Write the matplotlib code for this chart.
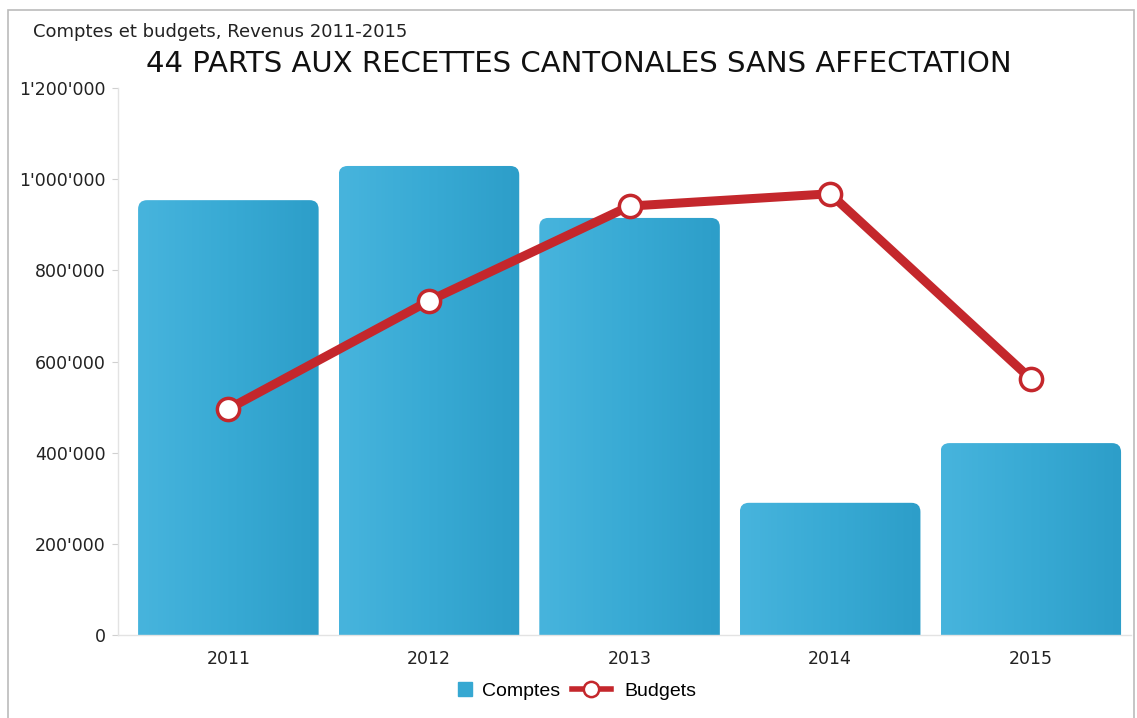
import matplotlib
matplotlib.use("Agg")
import numpy as np
import matplotlib.pyplot as plt
from matplotlib.ticker import FuncFormatter
from matplotlib.patches import Rectangle, FancyBboxPatch
from matplotlib.lines import Line2D
from matplotlib.colors import LinearSegmentedColormap

# data
years = ["2011", "2012", "2013", "2014", "2015"]
comptes = [954000, 1029000, 915000, 290000, 421000]
budgets = [496000, 733000, 941000, 968000, 562000]

bar_color = "#36a8d2"
line_color = "#c4272c"

fig = plt.figure(figsize=(11.37, 7.18), dpi=100)
ax = fig.add_axes([0.1038, 0.1156, 0.891, 0.7618])
ax.set_xlim(-0.55, 4.5)
ax.set_ylim(0, 1200000)

x = np.arange(len(years))
bars = ax.bar(x, comptes, width=0.9, color=bar_color, zorder=2)

# rounded tops + slight left-to-right shading, built from the bar geometry
grad = LinearSegmentedColormap.from_list("g", ["#47b4dd", "#38aad4", "#2d9ec9"])
px_per_x = 200.5
y_per_px = 1200000 / 547
r_px = 9
for b in bars:
    b.set_visible(False)
    x0, w, h = b.get_x(), b.get_width(), b.get_height()
    patch = FancyBboxPatch((x0, -40000), w, h + 40000,
                           boxstyle=f"round,pad=0,rounding_size={r_px / px_per_x}",
                           mutation_aspect=y_per_px * px_per_x,
                           fc="none", ec="none", zorder=2)
    ax.add_patch(patch)
    im = ax.imshow(np.linspace(0, 1, 64).reshape(1, -1), cmap=grad, aspect="auto",
                   extent=(x0, x0 + w, 0, h), zorder=2)
    im.set_clip_path(patch)

ax.plot(x, budgets, color=line_color, lw=6.5, marker="o", ms=16,
        mfc="white", mec=line_color, mew=2.5, zorder=3)

ax.set_xlim(-0.55, 4.5)
ax.set_ylim(0, 1200000)
ax.set_yticks([0, 200000, 400000, 600000, 800000, 1000000, 1200000])
ax.yaxis.set_major_formatter(FuncFormatter(lambda v, p: f"{int(v):,}".replace(",", "'")))
ax.set_xticks(list(x))
ax.set_xticklabels(years)

for s in ["top", "right"]:
    ax.spines[s].set_visible(False)
for s in ["left", "bottom"]:
    ax.spines[s].set_color("#e3e3e3")
    ax.spines[s].set_linewidth(1)
ax.tick_params(axis="y", length=4, color="#d0d0d0", labelsize=12.5, pad=5)
ax.tick_params(axis="x", length=0, labelsize=12.5, pad=11)
for lab in ax.get_xticklabels() + ax.get_yticklabels():
    lab.set_family("DejaVu Sans")
    lab.set_color("#222222")

fig.text(0.029, 0.955, "Comptes et budgets, Revenus 2011-2015",
         fontsize=13, family="DejaVu Sans", color="#222222", va="center")
fig.text(0.509, 0.911, "44 PARTS AUX RECETTES CANTONALES SANS AFFECTATION",
         fontsize=21, family="DejaVu Sans", color="#111111", ha="center", va="center")

# outer frame
fig.patches.append(Rectangle((0.007, -0.01), 0.99, 0.996, transform=fig.transFigure,
                             fill=False, edgecolor="#bbbbbb", lw=1.2))

legend_font = {"family": "Liberation Sans", "size": 14}
h_comptes = Line2D([], [], ls="none", marker="s", ms=10, mfc=bar_color, mec=bar_color)
h_budgets = Line2D([], [], color=line_color, lw=4, marker="o", ms=11, mfc="white",
                   mec=line_color, mew=1.8)
leg1 = fig.legend([h_comptes], ["Comptes"], loc="center left",
                  bbox_to_anchor=(457 / 1137, 0.038), frameon=False, prop=legend_font,
                  handlelength=0.8, handletextpad=0.5, borderpad=0, borderaxespad=0)
leg2 = fig.legend([h_budgets], ["Budgets"], loc="center left",
                  bbox_to_anchor=(572 / 1137, 0.038), frameon=False, prop=legend_font,
                  handlelength=2.0, handletextpad=0.7, borderpad=0, borderaxespad=0)

fig.savefig("out.png", dpi=100)
